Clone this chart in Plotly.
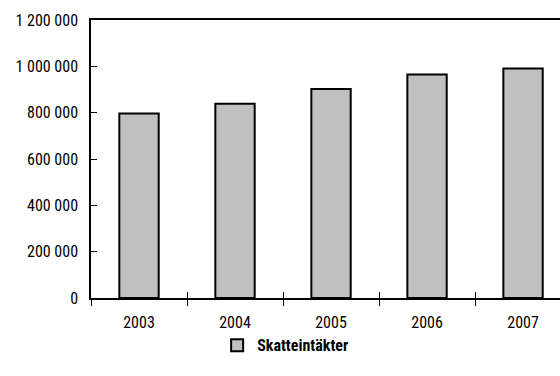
import plotly.graph_objects as go

years = ["2003", "2004", "2005", "2006", "2007"]
skatteintakter = [796000, 838000, 902000, 965000, 991000]
series_name = "Skatteintäkter"
y_ticks = [0, 200000, 400000, 600000, 800000, 1000000, 1200000]
y_ticktext = ["0", "200 000", "400 000", "600 000", "800 000", "1 000 000", "1 200 000"]

FONT = ("Noto Sans ExtraCondensed, Noto Sans Condensed, Roboto Condensed, "
        "Liberation Sans Narrow, DejaVu Sans Condensed, sans-serif")
x_range = [-0.5, 4.385]

fig = go.Figure()
fig.add_trace(go.Bar(
    x=years, y=skatteintakter, name=series_name,
    marker=dict(color="#C0C0C0", line=dict(color="#000000", width=2)),
    width=0.41,
))
# invisible helper trace so the overlay axis (inner half of the crossing ticks) is drawn
fig.add_trace(go.Scatter(x=[0], y=[0], xaxis="x2", mode="markers",
                         marker=dict(opacity=0), showlegend=False, hoverinfo="skip"))

fig.update_layout(
    width=560, height=376,
    margin=dict(l=91, r=0, t=20, b=78),
    paper_bgcolor="white", plot_bgcolor="white",
    font=dict(family=FONT, size=16, color="#000000"),
    showlegend=True,
    legend=dict(orientation="h", x=0.415, xanchor="center", y=-0.17, yanchor="middle",
                font=dict(family=FONT, size=16, weight="bold"),
                itemwidth=30, tracegroupgap=0),
    xaxis=dict(
        type="category", range=x_range, tickson="boundaries",
        ticks="outside", ticklen=6, tickcolor="#000", tickwidth=1,
        showline=True, linecolor="#000", linewidth=1.5, mirror=True,
        showgrid=False, zeroline=False, ticklabelstandoff=9,
    ),
    xaxis2=dict(
        overlaying="x", anchor="y", side="bottom", range=x_range,
        tickvals=[0.5, 1.5, 2.5, 3.5], ticks="inside", ticklen=6,
        tickcolor="#000", tickwidth=1, showticklabels=False,
        showgrid=False, zeroline=False, showline=False,
    ),
    yaxis=dict(
        range=[0, 1200000], tickvals=y_ticks, ticktext=y_ticktext,
        ticks="inside", ticklen=6, tickcolor="#000", tickwidth=1,
        showline=True, linecolor="#000", linewidth=1.5,
        showgrid=False, zeroline=False, ticklabelstandoff=8,
    ),
    bargap=0.59,
)

fig.write_html("out.html")
